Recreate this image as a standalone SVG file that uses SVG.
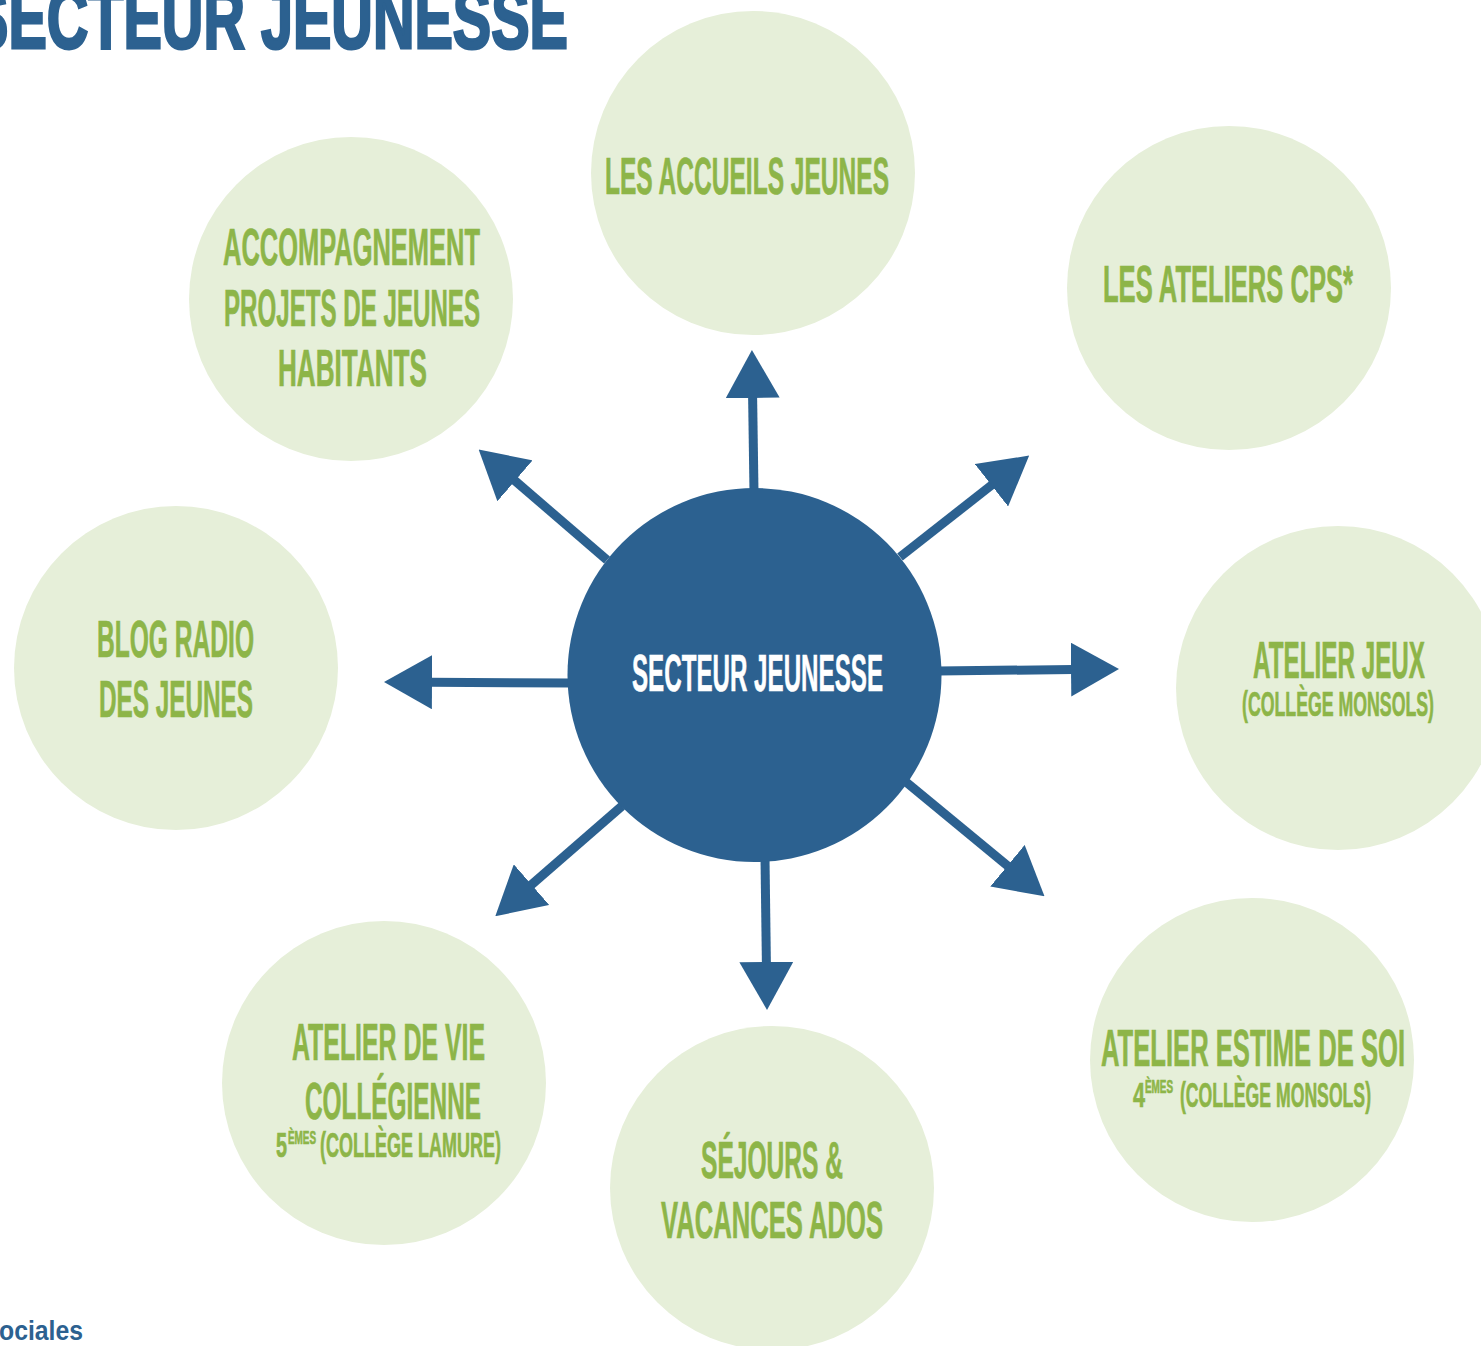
<svg xmlns="http://www.w3.org/2000/svg" width="1481" height="1346" viewBox="0 0 1481 1346">
  <style>
    .sat { fill: #e6efd9; }
    .hub { fill: #2c6190; }
    .lbl { font-family: "Liberation Sans Narrow", "Liberation Sans", "DejaVu Sans Condensed", sans-serif; font-weight: bold; fill: #8db548; stroke: #8db548; stroke-width: 0.7; }
    .big { font-size: 52px; }
    .sub { font-size: 35px; }
    .sup { font-size: 18px; }
    .hubtxt { font-family: "Liberation Sans Narrow", "Liberation Sans", sans-serif; font-weight: bold; font-size: 52px; fill: #ffffff; stroke: #ffffff; stroke-width: 0.6; }
    .title { font-family: "Liberation Sans Narrow", "Liberation Sans", sans-serif; font-weight: bold; font-size: 86px; fill: #2c6190; stroke: #2c6190; stroke-width: 3; }
    .foot { font-family: "Liberation Sans", "DejaVu Sans", sans-serif; font-weight: bold; font-size: 27px; fill: #2c6190; }
    .conn { stroke: #2c6190; stroke-width: 9; fill: none; marker-end: url(#ah); }
  </style>
  <defs>
    <marker id="ah" markerUnits="userSpaceOnUse" markerWidth="48" markerHeight="54" viewBox="0 0 48 54" refX="2" refY="27" orient="auto">
      <path d="M0,0 L48,27 L0,54 Z" fill="#2c6190"/>
    </marker>
  </defs>
  <rect width="1481" height="1346" fill="#ffffff"/>

  <text class="title" x="-30" y="48" textLength="598" lengthAdjust="spacingAndGlyphs">SECTEUR JEUNESSE</text>
  <text class="foot" x="-1" y="1340" textLength="84" lengthAdjust="spacingAndGlyphs">ociales</text>

  <g id="connectors">
    <line class="conn" x1="754" y1="492" x2="752.6" y2="396"/>
    <line class="conn" x1="900" y1="557" x2="993" y2="484"/>
    <line class="conn" x1="938" y1="671" x2="1073" y2="669.5"/>
    <line class="conn" x1="906" y1="782" x2="1009" y2="867"/>
    <line class="conn" x1="765" y1="858" x2="766.4" y2="964"/>
    <line class="conn" x1="622" y1="806" x2="530" y2="886"/>
    <line class="conn" x1="572" y1="683" x2="430" y2="682.2"/>
    <line class="conn" x1="607" y1="560" x2="513.5" y2="479.5"/>
  </g>

  <g id="hub">
    <circle class="hub" cx="754.5" cy="675" r="187"/>
    <text class="hubtxt" x="632" y="691" textLength="251" lengthAdjust="spacingAndGlyphs">SECTEUR JEUNESSE</text>
  </g>

  <g id="accueils">
    <circle class="sat" cx="753" cy="173" r="162"/>
    <text class="lbl big" x="605" y="194" textLength="284" lengthAdjust="spacingAndGlyphs">LES ACCUEILS JEUNES</text>
  </g>

  <g id="accompagnement">
    <circle class="sat" cx="351" cy="299" r="162"/>
    <text class="lbl big" x="223" y="265" textLength="257" lengthAdjust="spacingAndGlyphs">ACCOMPAGNEMENT</text>
    <text class="lbl big" x="224" y="326" textLength="256" lengthAdjust="spacingAndGlyphs">PROJETS DE JEUNES</text>
    <text class="lbl big" x="278" y="386" textLength="149" lengthAdjust="spacingAndGlyphs">HABITANTS</text>
  </g>

  <g id="cps">
    <circle class="sat" cx="1229" cy="288" r="162"/>
    <text class="lbl big" x="1103" y="302" textLength="250" lengthAdjust="spacingAndGlyphs">LES ATELIERS CPS*</text>
  </g>

  <g id="blog">
    <circle class="sat" cx="176" cy="668" r="162"/>
    <text class="lbl big" x="97" y="657" textLength="157" lengthAdjust="spacingAndGlyphs">BLOG RADIO</text>
    <text class="lbl big" x="99" y="717" textLength="154" lengthAdjust="spacingAndGlyphs">DES JEUNES</text>
  </g>

  <g id="jeux">
    <circle class="sat" cx="1338" cy="688" r="162"/>
    <text class="lbl big" x="1253" y="678" textLength="172" lengthAdjust="spacingAndGlyphs">ATELIER JEUX</text>
    <text class="lbl sub" x="1242" y="716" textLength="192" lengthAdjust="spacingAndGlyphs">(COLLÈGE MONSOLS)</text>
  </g>

  <g id="estime">
    <circle class="sat" cx="1252" cy="1060" r="162"/>
    <text class="lbl big" x="1101" y="1066" textLength="304" lengthAdjust="spacingAndGlyphs">ATELIER ESTIME DE SOI</text>
    <text class="lbl sub" y="1107"><tspan x="1133" textLength="12" lengthAdjust="spacingAndGlyphs">4</tspan><tspan class="sup" x="1145" y="1093" textLength="28" lengthAdjust="spacingAndGlyphs">ÈMES</tspan><tspan x="1180" y="1107" textLength="191" lengthAdjust="spacingAndGlyphs">(COLLÈGE MONSOLS)</tspan></text>
  </g>

  <g id="sejours">
    <circle class="sat" cx="772" cy="1188" r="162"/>
    <text class="lbl big" x="701" y="1178" textLength="142" lengthAdjust="spacingAndGlyphs">SÉJOURS &amp;</text>
    <text class="lbl big" x="661" y="1238" textLength="222" lengthAdjust="spacingAndGlyphs">VACANCES ADOS</text>
  </g>

  <g id="vie">
    <circle class="sat" cx="384" cy="1083" r="162"/>
    <text class="lbl big" x="292" y="1060" textLength="193" lengthAdjust="spacingAndGlyphs">ATELIER DE VIE</text>
    <text class="lbl big" x="305" y="1119" textLength="176" lengthAdjust="spacingAndGlyphs">COLLÉGIENNE</text>
    <text class="lbl sub" y="1157"><tspan x="276" textLength="11" lengthAdjust="spacingAndGlyphs">5</tspan><tspan class="sup" x="288" y="1144" textLength="28" lengthAdjust="spacingAndGlyphs">ÈMES</tspan><tspan x="320" y="1157" textLength="181" lengthAdjust="spacingAndGlyphs">(COLLÈGE LAMURE)</tspan></text>
  </g>
</svg>
